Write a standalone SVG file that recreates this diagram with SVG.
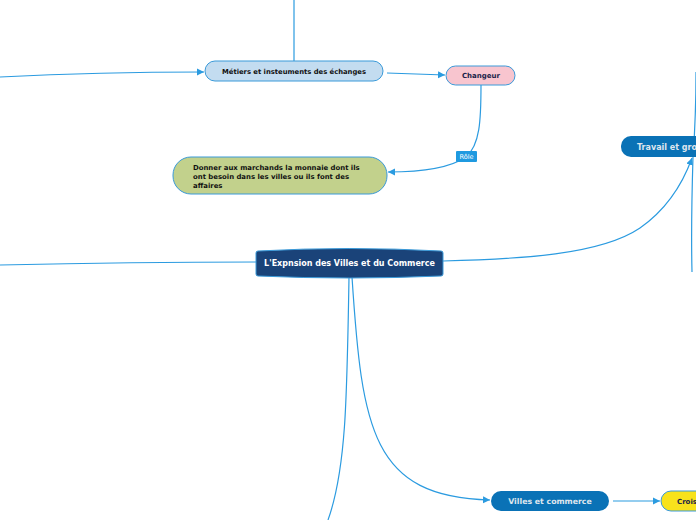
<svg xmlns="http://www.w3.org/2000/svg" width="696" height="520" viewBox="0 0 696 520">
<style>
.c{fill:none;stroke:#2b9be0;stroke-width:1.2}
.t{font-family:"DejaVu Sans","Verdana",sans-serif;font-weight:bold}
.n{stroke:#3a9ad9;stroke-width:1}
</style>
<defs>
<marker id="ah" markerWidth="8" markerHeight="8" refX="7" refY="4" orient="auto" markerUnits="userSpaceOnUse">
<path d="M0,0.5 L7,4 L0,7.5 Z" fill="#2b9be0"/>
</marker>
</defs>
<rect width="696" height="520" fill="#ffffff"/>
<g id="connectors">
<path class="c" d="M294,61 L294,0"/>
<path class="c" d="M0,77 C60,74 130,72 204,72" marker-end="url(#ah)"/>
<path class="c" d="M387,73 L445,75" marker-end="url(#ah)"/>
<path class="c" d="M481,85 C481,120 480,145 466,157 C450,168 420,172 388,172" marker-end="url(#ah)"/>
<path class="c" d="M0,265 C90,263 170,262 257,262"/>
<path class="c" d="M443,261 C520,259 600,255 640,228 C670,207 684,180 692,158" marker-end="url(#ah)"/>
<path class="c" d="M693,157 C695,130 696,100 696,72"/>
<path class="c" d="M693,157 C692,190 691,230 692,272"/>
<path class="c" d="M349,277 C347,400 346,470 328,520"/>
<path class="c" d="M352,277 C362,430 372,497 490,500" marker-end="url(#ah)"/>
<path class="c" d="M613,501 L660,501" marker-end="url(#ah)"/>
</g>
<g id="central">
<path d="M258,251 Q349,246 441,251 Q443,251 443,253 L443,274 Q443,276 441,276 Q349,280 258,276 Q256,276 256,274 L256,253 Q256,251 258,251 Z" fill="#1a4379" stroke="#3a9ad9" stroke-width="1"/>
<text class="t" x="349.5" y="266" font-size="8" fill="#ffffff" text-anchor="middle">L'Expnsion des Villes et du Commerce</text>
</g>
<g id="metiers">
<rect class="n" x="205" y="61" width="178" height="20" rx="10" fill="#c3dcf0"/>
<text class="t" x="294" y="73.5" font-size="6.8" fill="#111111" text-anchor="middle">Métiers et insteuments des échanges</text>
</g>
<g id="changeur">
<rect class="n" x="446" y="66" width="69" height="19" rx="9.5" fill="#f8c5cf"/>
<text class="t" x="481" y="78" font-size="7" fill="#1b1f4a" text-anchor="middle">Changeur</text>
</g>
<g id="role">
<rect x="456" y="151" width="21" height="11" rx="1" fill="#1f9ae0"/>
<text x="466.5" y="159" font-size="6.5" fill="#ffffff" text-anchor="middle" font-family="DejaVu Sans, sans-serif">Rôle</text>
</g>
<g id="donner">
<rect class="n" x="173" y="157" width="214" height="37" rx="18" fill="#c2d18c"/>
<text class="t" font-size="6.9" fill="#111111"><tspan x="193" y="170">Donner aux marchands la monnaie dont ils</tspan><tspan x="193" y="179">ont besoin dans les villes ou ils font des</tspan><tspan x="193" y="188">affaires</tspan></text>
</g>
<g id="travail">
<rect x="621" y="136" width="90" height="21" rx="10" fill="#0a72b6"/>
<text class="t" x="637" y="150" font-size="8" fill="#dfe6ee">Travail et gro</text>
</g>
<g id="villes">
<rect x="491" y="491" width="118" height="20" rx="10" fill="#0a72b6"/>
<text class="t" x="550" y="504" font-size="7.8" fill="#dfe6ee" text-anchor="middle">Villes et commerce</text>
</g>
<g id="crois">
<rect class="n" x="661" y="491" width="60" height="20" rx="10" fill="#f8e21c"/>
<text class="t" x="677" y="504" font-size="7" fill="#1b1f4a">Crois</text>
</g>
</svg>
